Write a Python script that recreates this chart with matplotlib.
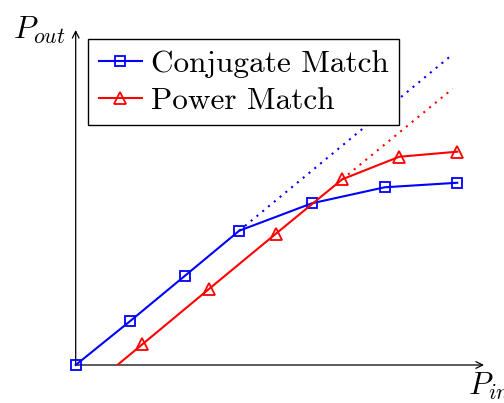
import matplotlib
matplotlib.use("Agg")
import matplotlib.pyplot as plt

plt.rcParams['mathtext.fontset'] = 'cm'

# Output power vs. input power for the two matching strategies
conj_x = [0, 3, 6, 9, 13, 17, 21]
conj_y = [0, 2.42, 4.90, 7.39, 8.90, 9.78, 10.03]
power_x = [0, 3.67, 7.33, 11, 14.67, 17.8, 21]
power_y = [-1.9, 1.14, 4.18, 7.21, 10.22, 11.46, 11.74]

# Linear (small-signal) extrapolation of each curve
conj_lin_x = [9, 20.75]
conj_lin_y = [7.39, 17.1]
power_lin_x = [14.67, 20.74]
power_lin_y = [10.22, 15.2]

labels = ['Conjugate Match', 'Power Match']

W, H = 504, 403
fig = plt.figure(figsize=(W / 100, H / 100), dpi=100)

# axes origin sits at pixel (75.7, 365), 18.17 px per unit on both axes
x0, y0, scale = 75.7, 365.0, 18.17
xmax, ymax = (484 - x0) / scale, (y0 - 30) / scale
ax = fig.add_axes([x0 / W, 1 - y0 / H, xmax * scale / W, ymax * scale / H])
ax.set_xlim(0, xmax)
ax.set_ylim(0, ymax)
ax.axis('off')

# axis arrows
arrow = dict(arrowstyle='->', lw=0.9, color='black',
             mutation_scale=12, shrinkA=0, shrinkB=0)
ax.annotate('', xy=(xmax, 0), xytext=(0, 0), arrowprops=arrow,
            annotation_clip=False)
ax.annotate('', xy=(0, ymax), xytext=(0, 0), arrowprops=arrow,
            annotation_clip=False)

dots = (0, (1, 2.6))
ax.plot(conj_lin_x, conj_lin_y, color='blue', lw=1.5, linestyle=dots)
ax.plot(power_lin_x, power_lin_y, color='red', lw=1.5, linestyle=dots)

ax.plot(conj_x, conj_y, color='blue', lw=1.5, marker='s', markersize=7,
        markerfacecolor='none', markeredgewidth=1.3, clip_on=False,
        label=labels[0], zorder=3)
ax.plot(power_x, power_y, color='red', lw=1.5, marker='^', markersize=8,
        markerfacecolor='none', markeredgewidth=1.3,
        label=labels[1], zorder=3)

leg = ax.legend(loc='upper left', bbox_to_anchor=(88.3 / W, 1 - 39.3 / H),
                bbox_transform=fig.transFigure, borderaxespad=0,
                fancybox=False, edgecolor='black', framealpha=1,
                prop={'family': 'cmr10', 'size': 22.5},
                handlelength=1.4, handletextpad=0.28, borderpad=0.33,
                labelspacing=0.3)
leg.get_frame().set_linewidth(1.0)

fig.text(12.7 / W, 1 - 39 / H, r'$P_{out}$', fontsize=22.5, va='baseline')
fig.text(468 / W, 1 - 395 / H, r'$P_{in}$', fontsize=22.5, va='baseline')

fig.savefig('out.png', dpi=100)
